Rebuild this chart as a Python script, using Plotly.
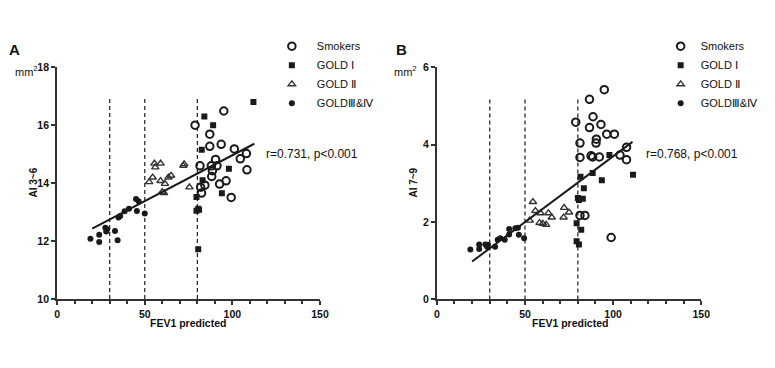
import plotly.graph_objects as go

# ---------------- Panel A data (AI 3~6) ----------------
a_smk_x = [78.7, 95.1, 87.1, 87.1, 93.6, 101.1, 108.0, 104.5, 108.3, 81.5, 88.0, 90.4, 91.2, 88.6, 88.2, 92.7, 96.4, 84.3, 81.9, 82.4, 99.3]
a_smk_y = [16.0, 16.49, 15.69, 15.27, 15.34, 15.18, 15.02, 14.84, 14.46, 14.6, 14.6, 14.82, 14.6, 14.43, 14.23, 13.97, 14.08, 13.93, 13.86, 13.66, 13.51]
a_g1_x = [112.0, 84.0, 89.0, 82.5, 98.0, 83.0, 79.5, 94.0, 80.5, 79.5, 81.0, 80.5]
a_g1_y = [16.8, 16.3, 16.0, 15.15, 14.5, 14.1, 13.52, 13.65, 13.12, 13.05, 13.08, 11.72]
a_g2_x = [55.5, 56.0, 59.0, 52.5, 54.5, 59.0, 61.5, 63.5, 65.0, 60.0, 61.0, 72.0, 72.5, 75.5]
a_g2_y = [14.68, 14.55, 14.68, 14.04, 14.2, 14.08, 13.98, 14.2, 14.26, 13.7, 13.66, 14.6, 14.66, 13.86]
a_g34_x = [19.0, 24.0, 24.0, 27.5, 28.5, 28.0, 33.0, 34.5, 35.0, 36.0, 38.5, 41.0, 45.5, 45.0, 46.5, 50.0]
a_g34_y = [12.08, 12.22, 11.97, 12.46, 12.41, 12.33, 12.35, 12.03, 12.82, 12.87, 13.03, 13.12, 13.04, 13.45, 13.38, 12.95]
a_fit_x = [20, 112.5]
a_fit_y = [12.43, 15.36]
a_cut_top = 16.9
a_stats = "r=0.731, p<0.001"

# ---------------- Panel B data (AI 7~9) ----------------
b_smk_x = [95.0, 86.6, 78.8, 88.6, 86.6, 93.1, 96.4, 100.7, 81.2, 90.5, 90.3, 81.2, 87.5, 88.4, 92.2, 107.6, 103.9, 107.6, 81.2, 84.0, 98.9]
b_smk_y = [5.42, 5.17, 4.58, 4.72, 4.44, 4.52, 4.27, 4.27, 4.04, 4.14, 4.04, 3.67, 3.71, 3.68, 3.68, 3.93, 3.73, 3.61, 2.17, 2.17, 1.6]
b_g1_x = [97.9, 88.4, 111.3, 81.5, 93.6, 83.4, 80.0, 80.6, 82.8, 79.3, 81.9, 79.3, 80.6]
b_g1_y = [3.73, 3.27, 3.22, 3.17, 3.08, 2.87, 2.62, 2.57, 2.6, 1.97, 1.8, 1.5, 1.42]
b_g2_x = [54.5, 55.9, 52.7, 58.8, 58.3, 60.1, 62.0, 63.3, 65.2, 72.2, 71.9, 75.0]
b_g2_y = [2.52, 2.29, 2.04, 2.23, 1.98, 1.96, 1.93, 2.23, 2.12, 2.37, 2.12, 2.25]
b_g34_x = [19.0, 24.0, 24.0, 27.5, 28.5, 29.0, 33.0, 34.5, 36.0, 38.5, 41.0, 41.0, 44.5, 46.0, 46.5, 49.5]
b_g34_y = [1.29, 1.42, 1.30, 1.42, 1.36, 1.41, 1.36, 1.54, 1.58, 1.54, 1.68, 1.82, 1.84, 1.85, 1.67, 1.58]
b_fit_x = [20, 111]
b_fit_y = [0.98, 4.07]
b_cut_top = 5.17
b_stats = "r=0.768, p<0.001"

cutoffs = [30, 50, 80]
names = ["Smokers", "GOLD Ⅰ", "GOLD Ⅱ", "GOLDⅢ&Ⅳ"]

W, H = 775, 368
FONT = "Liberation Sans, Arial, sans-serif"
INK = "#1a1a1a"

fig = go.Figure()

styles = [
    dict(symbol="circle-open", size=7.5, color=INK, line=dict(width=2, color=INK)),
    dict(symbol="square", size=6, color=INK),
    dict(symbol="triangle-up-open", size=6.5, color="#333", line=dict(width=1.4, color="#333")),
    dict(symbol="circle", size=6, color=INK),
]

def add_panel(xa, ya, leg, series, fit_x, fit_y, ybottom, ytop):
    for (x, y), nm, st in zip(series, names, styles):
        fig.add_trace(go.Scatter(x=x, y=y, mode="markers", name=nm, marker=st,
                                 xaxis=xa, yaxis=ya, legend=leg, showlegend=True))
    for c in cutoffs:
        fig.add_trace(go.Scatter(x=[c, c], y=[ybottom, ytop], mode="lines",
                                 line=dict(color=INK, width=1.2, dash="4px,3px"),
                                 xaxis=xa, yaxis=ya, showlegend=False, hoverinfo="skip"))
    fig.add_trace(go.Scatter(x=fit_x, y=fit_y, mode="lines", line=dict(color=INK, width=2),
                             xaxis=xa, yaxis=ya, showlegend=False, hoverinfo="skip"))

add_panel("x", "y", "legend",
          [(a_smk_x, a_smk_y), (a_g1_x, a_g1_y), (a_g2_x, a_g2_y), (a_g34_x, a_g34_y)],
          a_fit_x, a_fit_y, 10, a_cut_top)
add_panel("x2", "y2", "legend2",
          [(b_smk_x, b_smk_y), (b_g1_x, b_g1_y), (b_g2_x, b_g2_y), (b_g34_x, b_g34_y)],
          b_fit_x, b_fit_y, 0, b_cut_top)

def px_x(p):
    return p / W

def px_y(p):
    return 1 - p / H

axis_common = dict(showline=True, linewidth=2, linecolor="#333", ticks="outside",
                   ticklen=4, tickwidth=2, tickcolor="#333", showgrid=False, zeroline=False,
                   tickfont=dict(family=FONT, size=10.5, color="#111", weight="bold"))
xcommon = dict(axis_common, range=[0, 150], tickvals=[0, 50, 100, 150],
               minor=dict(dtick=10, ticks="outside", ticklen=3, tickwidth=1.5, tickcolor="#333"))

fig.update_layout(
    width=W, height=H, margin=dict(l=0, r=0, t=0, b=0),
    paper_bgcolor="white", plot_bgcolor="white", showlegend=True,
    xaxis=dict(xcommon, domain=[px_x(55), px_x(322)], anchor="y"),
    yaxis=dict(axis_common, range=[10, 18], tickvals=[10, 12, 14, 16, 18],
               domain=[px_y(303), px_y(63.3)], anchor="x"),
    xaxis2=dict(xcommon, domain=[px_x(440.7), px_x(709.2)], anchor="y2"),
    yaxis2=dict(axis_common, range=[0, 6], tickvals=[0, 2, 4, 6],
                domain=[px_y(303.3), px_y(63.3)], anchor="x2"),
    legend=dict(x=px_x(268), y=px_y(26.5), xanchor="left", yanchor="top",
                font=dict(family=FONT, size=11, color="#111"), itemwidth=40,
                bgcolor="rgba(0,0,0,0)", tracegroupgap=0),
    legend2=dict(x=px_x(668), y=px_y(26.5), xanchor="left", yanchor="top",
                 font=dict(family=FONT, size=11, color="#111"), itemwidth=30,
                 bgcolor="rgba(0,0,0,0)", tracegroupgap=0),
)

ann = []
def text(x, y, s, size=11, bold=False, xanchor="left", angle=0):
    ann.append(dict(x=px_x(x), y=px_y(y), xref="paper", yref="paper", text=s, showarrow=False,
                    xanchor=xanchor, yanchor="middle", textangle=angle,
                    font=dict(family=FONT, size=size, color="#111", weight="bold" if bold else "normal")))

text(4, 45, "A", size=15, bold=True)
text(397, 45, "B", size=15, bold=True)
text(10, 67, "mm<sup>2</sup>", size=11)
text(395, 67, "mm<sup>2</sup>", size=11)
text(31, 183, "AI 3~6", size=10, bold=True, xanchor="center", angle=-90)
text(416, 183, "AI 7~9", size=10, bold=True, xanchor="center", angle=-90)
text(188, 328, "FEV1 predicted", size=10.5, bold=True, xanchor="center")
text(576, 328, "FEV1 predicted", size=10.5, bold=True, xanchor="center")
text(265, 153, a_stats, size=12)
text(651, 153, b_stats, size=12)
fig.update_layout(annotations=ann)

fig.write_html("out.html", config={"displayModeBar": False},
               post_script="document.body.style.margin='0';document.body.style.overflow='hidden';")
